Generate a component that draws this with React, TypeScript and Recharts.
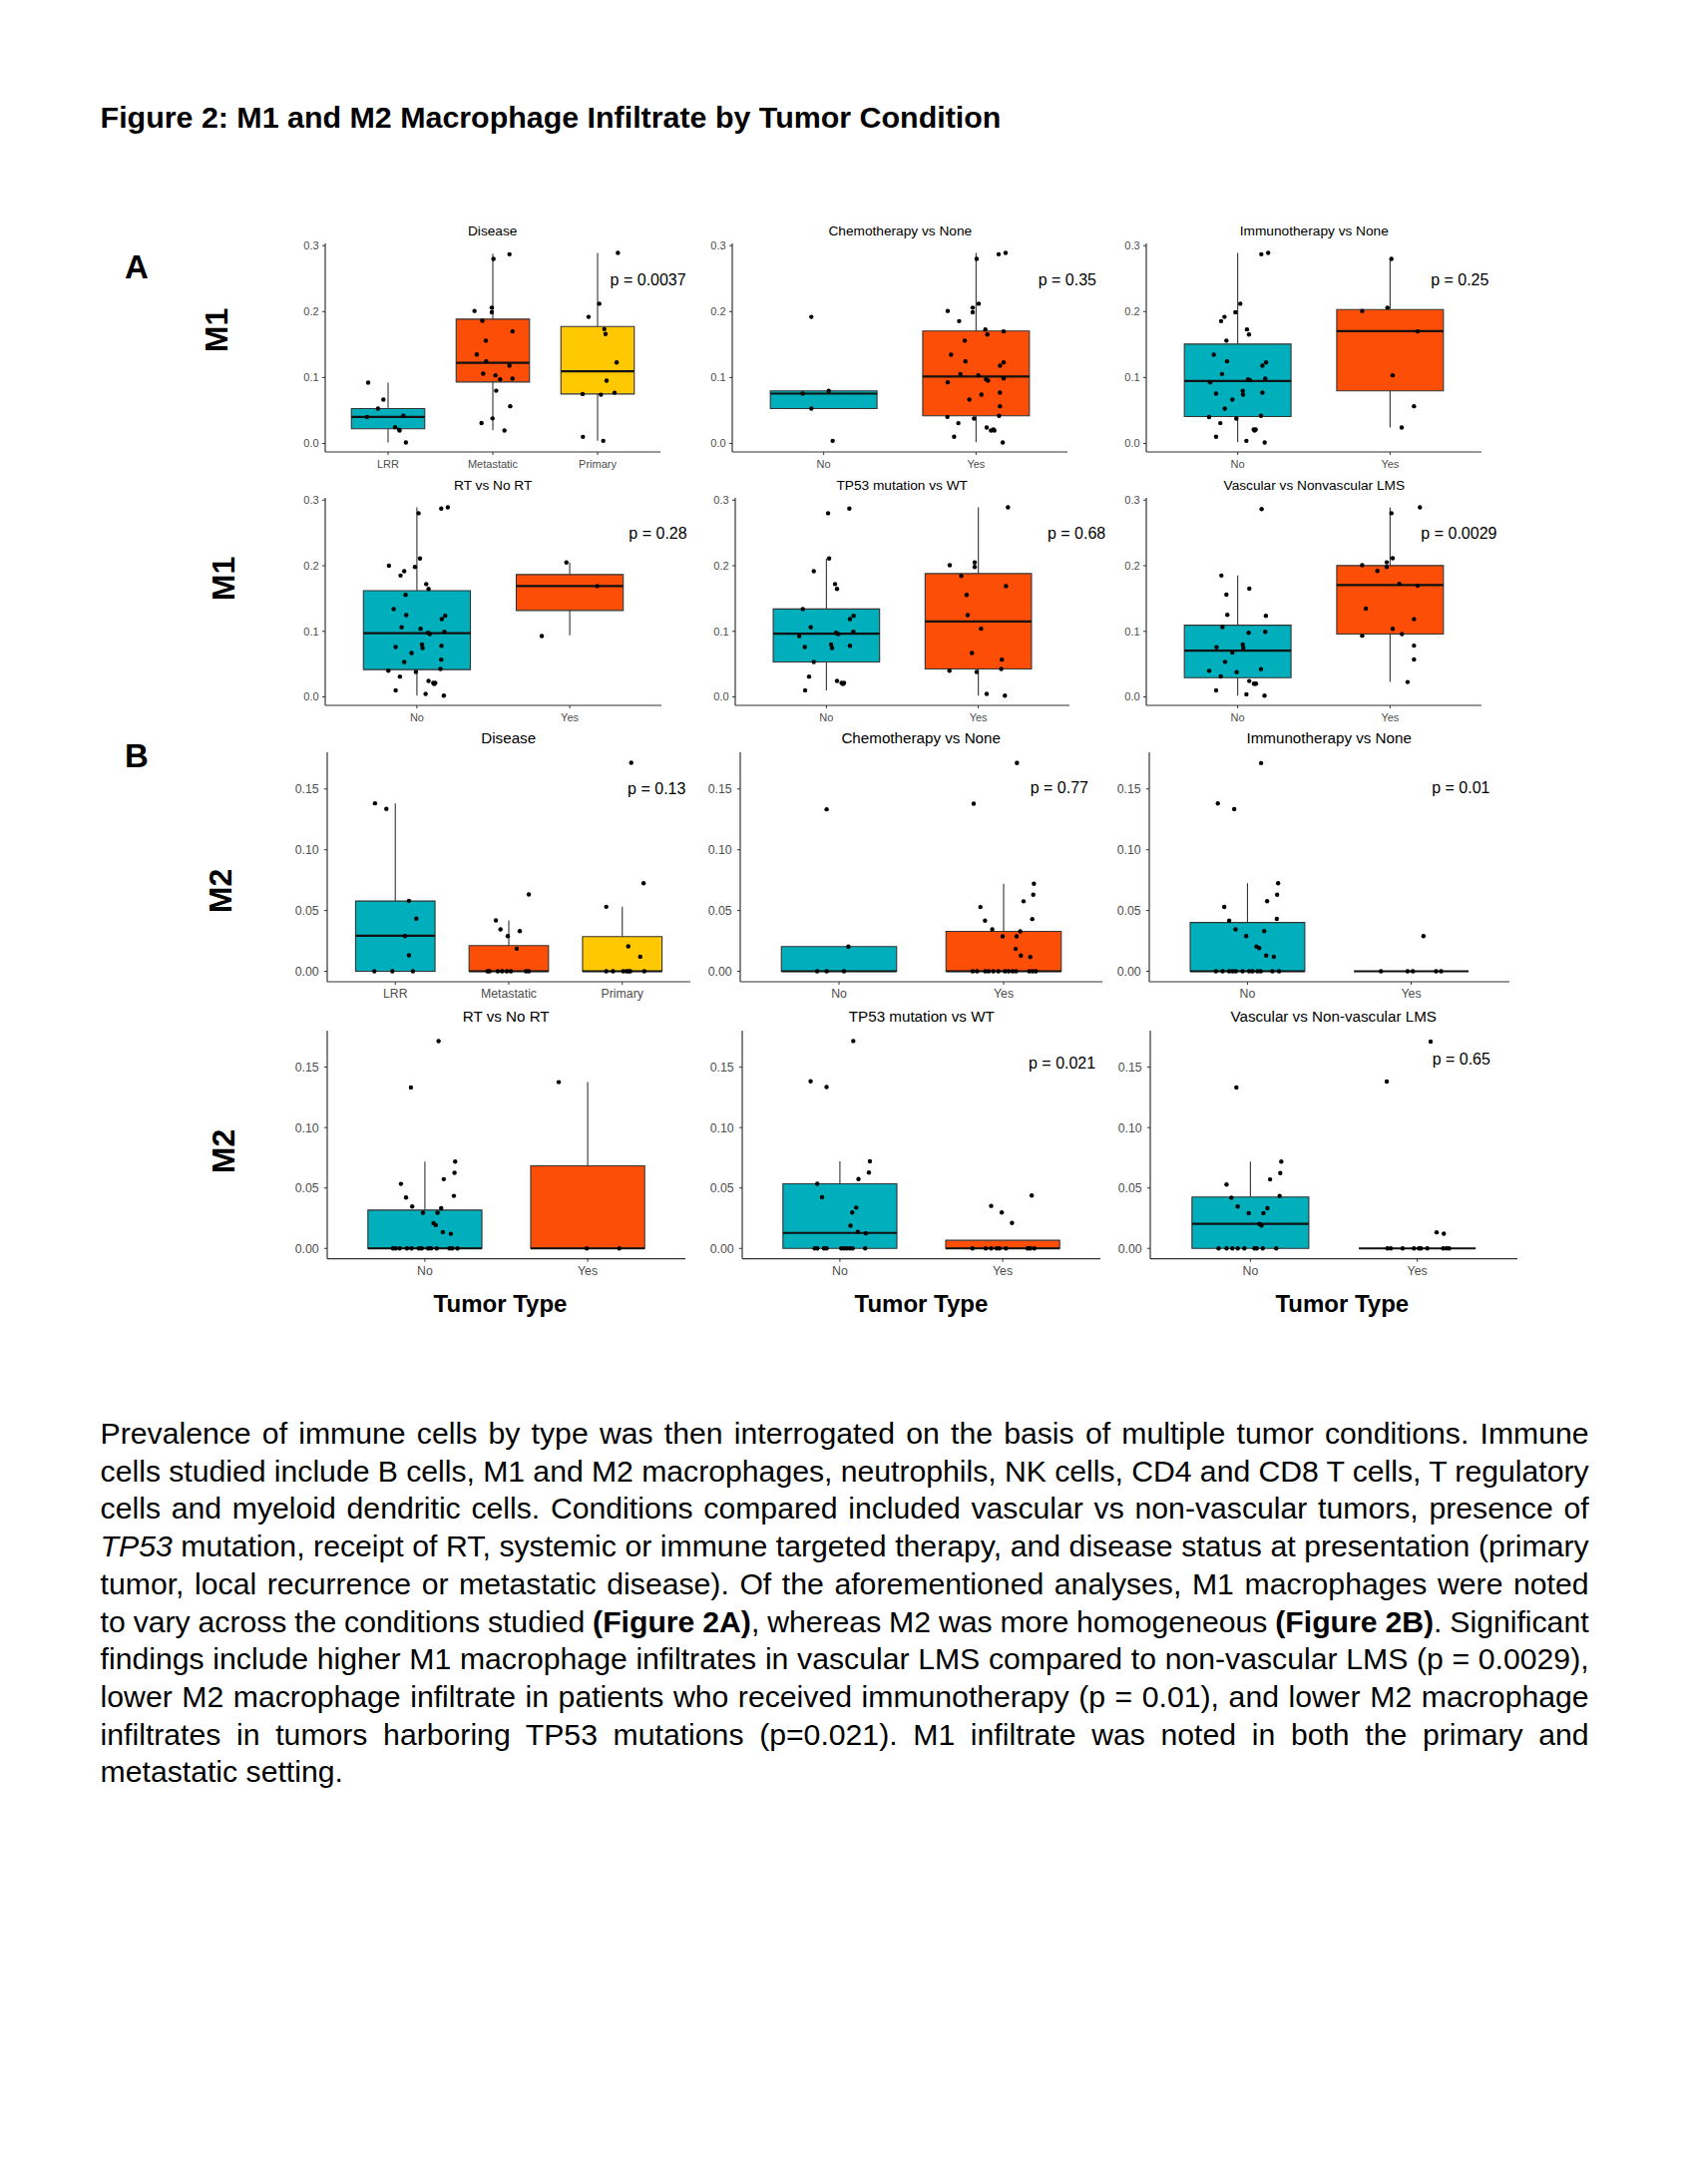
import React from 'react';
import { ComposedChart, XAxis, YAxis, Scatter, ReferenceArea, ReferenceLine, ReferenceDot } from 'recharts';

type Pt = [number, number];
type Box = [number, number, number, number, number];

const FONT = "'Liberation Sans', Arial, Helvetica, sans-serif";
const TEAL = '#00AFBB';
const ORANGE = '#FC4E07';
const YELLOW = '#FFC800';

// ---------- category labels ----------
const diseaseCats = ['LRR', 'Metastatic', 'Primary'];
const noYesCats = ['No', 'Yes'];
const m1Ticks = [0, 0.1, 0.2, 0.3];
const m2Ticks = [0, 0.05, 0.1, 0.15];
const m1Domain: [number, number] = [-0.0129, 0.3034];
const m2Domain: [number, number] = [-0.0086, 0.1802];

// ---------- M1 : [value, jitter] ----------
const m1DiseaseLRR: Pt[] = [[0.0923,-0.19],[0.0666,-0.045],[0.053,-0.096],[0.04,-0.2],[0.042,0.146],[0.0247,0.067],[0.021,0.105],[0.0197,0.11],[0.0015,0.17]];
const m1DiseaseMet: Pt[] = [[0.28,0.006],[0.287,0.159],[0.201,-0.175],[0.206,-0.01],[0.199,-0.01],[0.186,-0.1],[0.17,0.188],[0.156,-0.067],[0.135,-0.153],[0.1246,-0.064],[0.118,0.159],[0.106,-0.092],[0.1034,0.025],[0.0973,0.07],[0.0983,0.188],[0.08,0.032],[0.0565,0.166],[0.031,-0.108],[0.038,-0.003],[0.0197,0.111]];
const m1DiseasePri: Pt[] = [[0.289,0.194],[0.212,0.016],[0.192,-0.086],[0.1735,0.064],[0.166,0.076],[0.123,0.182],[0.0953,0.086],[0.077,0.162],[0.075,-0.143],[0.074,0.032],[0.01,-0.14],[0.004,0.054]];
const m1DiseaseBox: Box[] = [[0.0015,0.0222,0.0403,0.053,0.0923],[0.0202,0.0933,0.1225,0.1886,0.288],[0.004,0.0751,0.1094,0.1775,0.289]];

const m1ChemoNo: Pt[] = [[0.192,-0.081],[0.0756,-0.138],[0.0797,0.033],[0.053,-0.081],[0.004,0.059]];
const m1ChemoYes: Pt[] = [[0.28,0.004],[0.287,0.148],[0.289,0.194],[0.201,-0.186],[0.206,-0.022],[0.199,-0.022],[0.212,0.017],[0.1856,-0.111],[0.173,0.061],[0.1654,0.074],[0.17,0.181],[0.156,-0.074],[0.1346,-0.164],[0.1246,-0.07],[0.123,0.181],[0.118,0.157],[0.1054,-0.103],[0.1034,0.015],[0.0928,-0.186],[0.0973,0.066],[0.0953,0.079],[0.0988,0.181],[0.0666,-0.044],[0.0741,0.035],[0.0772,0.157],[0.0565,0.157],[0.0403,-0.188],[0.0378,-0.013],[0.0419,0.151],[0.0308,-0.116],[0.0242,0.07],[0.0197,0.098],[0.0212,0.114],[0.0197,0.12],[0.0101,-0.144],[0.0015,0.175]];
const m1ChemoBox: Box[] = [[0.053,0.053,0.0756,0.0797,0.0797],[0.002,0.0419,0.1014,0.1705,0.289]];

const m1ImmunoNo: Pt[] = [[0.287,0.155],[0.289,0.2],[0.212,0.017],[0.199,-0.015],[0.192,-0.087],[0.1856,-0.109],[0.173,0.061],[0.1654,0.074],[0.156,-0.074],[0.1346,-0.157],[0.1246,-0.07],[0.123,0.186],[0.118,0.162],[0.1054,-0.103],[0.0928,-0.181],[0.0973,0.068],[0.0958,0.081],[0.0983,0.181],[0.0666,-0.035],[0.0756,-0.142],[0.0797,0.033],[0.0741,0.035],[0.0772,0.162],[0.053,-0.085],[0.04,-0.188],[0.0378,-0.009],[0.0419,0.153],[0.0308,-0.114],[0.0212,0.105],[0.0197,0.111],[0.0212,0.118],[0.0101,-0.142],[0.004,0.057],[0.0015,0.177]];
const m1ImmunoYes: Pt[] = [[0.28,0.009],[0.201,-0.183],[0.206,-0.017],[0.17,0.181],[0.1034,0.017],[0.0565,0.157],[0.0242,0.076]];
const m1ImmunoBox: Box[] = [[0.002,0.0408,0.0948,0.1508,0.289],[0.0242,0.0797,0.1705,0.2032,0.28]];

const m1RtNo: Pt[] = [[0.28,0.011],[0.287,0.159],[0.289,0.202],[0.211,0.02],[0.2,-0.183],[0.198,-0.013],[0.1916,-0.083],[0.185,-0.107],[0.172,0.061],[0.1647,0.076],[0.1556,-0.074],[0.134,-0.152],[0.1247,-0.07],[0.1237,0.185],[0.1186,0.163],[0.106,-0.1],[0.104,0.024],[0.0978,0.072],[0.0958,0.085],[0.0993,0.18],[0.076,-0.139],[0.08,0.033],[0.0745,0.037],[0.078,0.161],[0.0669,-0.035],[0.0532,-0.083],[0.0568,0.159],[0.04,-0.187],[0.038,-0.007],[0.0426,0.154],[0.031,-0.111],[0.0243,0.076],[0.0213,0.107],[0.0198,0.113],[0.0213,0.12],[0.0101,-0.139],[0.0046,0.057],[0.002,0.176]];
const m1RtYes: Pt[] = [[0.205,-0.022],[0.169,0.18],[0.0928,-0.183]];
const m1RtBox: Box[] = [[0.002,0.0416,0.0973,0.162,0.289],[0.0938,0.1318,0.169,0.1865,0.205]];

const m1Tp53No: Pt[] = [[0.28,0.011],[0.287,0.151],[0.211,0.018],[0.1916,-0.083],[0.172,0.057],[0.1647,0.07],[0.134,-0.155],[0.106,-0.103],[0.1237,0.179],[0.1186,0.155],[0.0928,-0.179],[0.0978,0.063],[0.0958,0.077],[0.0993,0.177],[0.076,-0.142],[0.08,0.031],[0.0745,0.037],[0.078,0.155],[0.0532,-0.083],[0.031,-0.114],[0.0243,0.07],[0.0213,0.1],[0.0198,0.109],[0.0213,0.116],[0.0101,-0.14]];
const m1Tp53Yes: Pt[] = [[0.289,0.195],[0.2007,-0.188],[0.205,-0.024],[0.198,-0.024],[0.1845,-0.112],[0.169,0.182],[0.1556,-0.077],[0.1247,-0.07],[0.104,0.018],[0.0669,-0.042],[0.0568,0.155],[0.04,-0.19],[0.038,-0.011],[0.0426,0.151],[0.0046,0.055],[0.002,0.175]];
const m1Tp53Box: Box[] = [[0.0101,0.0532,0.0963,0.134,0.211],[0.002,0.0426,0.115,0.188,0.289]];

const m1VascNo: Pt[] = [[0.2864,0.157],[0.185,-0.107],[0.165,0.076],[0.156,-0.074],[0.125,-0.068],[0.1235,0.185],[0.1064,-0.1],[0.0978,0.072],[0.0993,0.181],[0.0756,-0.139],[0.08,0.033],[0.0746,0.037],[0.0676,-0.035],[0.0535,-0.083],[0.0398,-0.187],[0.0378,-0.007],[0.0424,0.153],[0.0313,-0.111],[0.0242,0.076],[0.0202,0.107],[0.0202,0.113],[0.0202,0.12],[0.0101,-0.142],[0.004,0.057],[0.002,0.176]];
const m1VascYes: Pt[] = [[0.28,0.009],[0.289,0.196],[0.2007,-0.183],[0.2113,0.017],[0.2052,-0.022],[0.198,-0.022],[0.192,-0.083],[0.1725,0.061],[0.1694,0.181],[0.1346,-0.159],[0.1185,0.157],[0.1039,0.017],[0.0933,-0.183],[0.0958,0.078],[0.0782,0.157],[0.057,0.157],[0.0227,0.115]];
const m1VascBox: Box[] = [[0.002,0.0292,0.0706,0.1094,0.185],[0.0227,0.0958,0.1705,0.2002,0.289]];

// ---------- M2 : [value, jitter] ----------
const m2DiseaseLRR: Pt[] = [[0.1382,-0.179],[0.1336,-0.079],[0.058,0.12],[0.0433,0.185],[0.029,0.085],[0.0131,0.12],[0,-0.185],[0,-0.026],[0,0.155]];
const m2DiseaseMet: Pt[] = [[0.0632,0.176],[0.0419,-0.114],[0.0345,-0.073],[0.0331,0.097],[0.029,-0.009],[0.0186,0.07],[0,-0.188],[0,-0.17],[0,-0.097],[0,-0.059],[0,-0.018],[0,0.018],[0,0.152],[0,0.176]];
const m2DiseasePri: Pt[] = [[0.1716,0.079],[0.0725,0.188],[0.0531,-0.141],[0.0205,0.053],[0.012,0.158],[0,-0.141],[0,-0.082],[0,0.009],[0,0.038],[0,0.056],[0,0.07],[0,0.194]];
const m2DiseaseBox: Box[] = [[0,0,0.0293,0.0578,0.1382],[0,0,0,0.0211,0.0419],[0,0,0,0.0285,0.0531]];

const m2ChemoNo: Pt[] = [[0.1333,-0.075],[0.0203,0.057],[0,-0.133],[0,-0.075],[0,0.03]];
const m2ChemoYes: Pt[] = [[0.1714,0.081],[0.1379,-0.182],[0.0721,0.184],[0.063,0.18],[0.0576,0.121],[0.0529,-0.141],[0.043,0.174],[0.0417,-0.113],[0.0345,-0.069],[0.0329,0.101],[0.0288,-0.006],[0.0288,0.079],[0.0184,0.073],[0.0129,0.105],[0.0118,0.162],[0,-0.188],[0,-0.162],[0,-0.111],[0,-0.091],[0,-0.063],[0,-0.032],[0,0.008],[0,0.03],[0,0.055],[0,0.075],[0,0.156],[0,0.176],[0,0.196]];
const m2ChemoBox: Box[] = [[0,0,0,0.0203,0.0203],[0,0,0,0.0329,0.0721]];

const m2ImmunoNo: Pt[] = [[0.1713,0.083],[0.1381,-0.181],[0.1334,-0.081],[0.0724,0.187],[0.063,0.181],[0.0577,0.12],[0.053,-0.142],[0.0417,-0.112],[0.0431,0.179],[0.0345,-0.073],[0.0331,0.102],[0.029,-0.008],[0.0204,0.055],[0.0191,0.071],[0.013,0.114],[0.0119,0.161],[0,-0.193],[0,-0.152],[0,-0.112],[0,-0.091],[0,-0.071],[0,-0.03],[0,0.01],[0,0.03],[0,0.061],[0,0.081],[0,0.152],[0,0.193]];
const m2ImmunoYes: Pt[] = [[0.029,0.075],[0,-0.185],[0,-0.022],[0,0.01],[0,0.152],[0,0.183]];
const m2ImmunoBox: Box[] = [[0,0,0,0.0401,0.0724],[0,0,0,0,0]];

const m2RtNo: Pt[] = [[0.1715,0.084],[0.1332,-0.086],[0.0718,0.186],[0.0625,0.182],[0.0573,0.116],[0.0534,-0.147],[0.0421,-0.116],[0.0435,0.178],[0.0347,-0.078],[0.0333,0.1],[0.0295,-0.012],[0.0295,0.078],[0.0209,0.053],[0.0193,0.067],[0.0135,0.11],[0.0121,0.159],[0,-0.196],[0,-0.18],[0,-0.155],[0,-0.11],[0,-0.082],[0,-0.037],[0,-0.02],[0,0.02],[0,0.037],[0,0.073],[0,0.151],[0,0.167],[0,0.2]];
const m2RtYes: Pt[] = [[0.1376,-0.178],[0,-0.006],[0,0.194]];
const m2RtBox: Box[] = [[0,0,0,0.0317,0.0718],[0,0,0,0.0683,0.1376]];

const m2Tp53No: Pt[] = [[0.1716,0.082],[0.1383,-0.18],[0.1336,-0.082],[0.0721,0.184],[0.0627,0.178],[0.0574,0.114],[0.0535,-0.139],[0.0424,-0.11],[0.0338,0.1],[0.0297,0.076],[0.0188,0.065],[0.0136,0.11],[0.0125,0.159],[0,-0.155],[0,-0.139],[0,-0.098],[0,-0.082],[0,0.008],[0,0.024],[0,0.041],[0,0.061],[0,0.078],[0,0.155]];
const m2Tp53Yes: Pt[] = [[0.0438,0.178],[0.0352,-0.071],[0.0297,-0.006],[0.0211,0.057],[0,-0.186],[0,-0.104],[0,-0.071],[0,-0.037],[0,-0.02],[0,0.02],[0,0.153],[0,0.169],[0,0.194]];
const m2Tp53Box: Box[] = [[0,0,0.0128,0.0535,0.0721],[0,0,0,0.0067,0.0067]];

const m2VascNo: Pt[] = [[0.1332,-0.084],[0.0718,0.185],[0.0623,0.179],[0.0571,0.118],[0.0528,-0.143],[0.042,-0.114],[0.0433,0.175],[0.0347,-0.076],[0.0333,0.102],[0.0292,-0.01],[0.0292,0.078],[0.0203,0.054],[0.019,0.066],[0,-0.191],[0,-0.143],[0,-0.108],[0,-0.076],[0,-0.036],[0,0.024],[0,0.038],[0,0.074],[0,0.155]];
const m2VascYes: Pt[] = [[0.1711,0.08],[0.1381,-0.183],[0.0133,0.116],[0.0122,0.159],[0,-0.179],[0,-0.159],[0,-0.088],[0,-0.02],[0,0.01],[0,0.022],[0,0.06],[0,0.155],[0,0.175],[0,0.191]];
const m2VascBox: Box[] = [[0,0,0.0203,0.0425,0.0718],[0,0,0,0,0]];

// ---------- panel titles and p-values ----------
const m1Titles = ['Disease', 'Chemotherapy vs None', 'Immunotherapy vs None', 'RT vs No RT', 'TP53 mutation vs WT', 'Vascular vs Nonvascular LMS'];
const m2Titles = ['Disease', 'Chemotherapy vs None', 'Immunotherapy vs None', 'RT vs No RT', 'TP53 mutation vs WT', 'Vascular vs Non-vascular LMS'];
const m1PValues = ['p = 0.0037', 'p = 0.35', 'p = 0.25', 'p = 0.28', 'p = 0.68', 'p = 0.0029'];
const m2PValues = ['p = 0.13', 'p = 0.77', 'p = 0.01', '', 'p = 0.021', 'p = 0.65'];

interface PanelSpec {
  title: string;
  cats: string[];
  groups: Pt[][];
  boxes: Box[];
  colors: string[];
  left: number; top: number; w: number; h: number;
  domain: [number, number];
  ticks: number[];
  digits: number;
  p: string; px: number; py: number;
  tickFont: number; titleFont: number; titleY: number;
  xMargin: number; yMargin: number;
}

const aBase = { domain: m1Domain, ticks: m1Ticks, digits: 1, tickFont: 11, titleFont: 13.7, xMargin: 4.8, yMargin: 3.4 };
const bBase = { domain: m2Domain, ticks: m2Ticks, digits: 2, tickFont: 12.3, titleFont: 15.2, xMargin: 4.6, yMargin: 5.4 };

const panels: PanelSpec[] = [
  { ...aBase, title: m1Titles[0], cats: diseaseCats, groups: [m1DiseaseLRR, m1DiseaseMet, m1DiseasePri], boxes: m1DiseaseBox, colors: [TEAL, ORANGE, YELLOW], left: 325.7, top: 244, w: 336, h: 209, p: m1PValues[0], px: 3.12, py: 0.248, titleY: 236.2 },
  { ...aBase, title: m1Titles[1], cats: noYesCats, groups: [m1ChemoNo, m1ChemoYes], boxes: m1ChemoBox, colors: [TEAL, ORANGE], left: 734.3, top: 244, w: 336, h: 209, p: m1PValues[1], px: 2.408, py: 0.248, titleY: 236.2 },
  { ...aBase, title: m1Titles[2], cats: noYesCats, groups: [m1ImmunoNo, m1ImmunoYes], boxes: m1ImmunoBox, colors: [TEAL, ORANGE], left: 1149.3, top: 244, w: 336, h: 209, p: m1PValues[2], px: 2.267, py: 0.248, titleY: 236.2 },
  { ...aBase, title: m1Titles[3], cats: noYesCats, groups: [m1RtNo, m1RtYes], boxes: m1RtBox, colors: [TEAL, ORANGE], left: 325.7, top: 499, w: 337, h: 208, p: m1PValues[3], px: 2.387, py: 0.249, titleY: 491.2 },
  { ...aBase, title: m1Titles[4], cats: noYesCats, groups: [m1Tp53No, m1Tp53Yes], boxes: m1Tp53Box, colors: [TEAL, ORANGE], left: 736.7, top: 499, w: 335, h: 208, p: m1PValues[4], px: 2.455, py: 0.25, titleY: 491.2 },
  { ...aBase, title: m1Titles[5], cats: noYesCats, groups: [m1VascNo, m1VascYes], boxes: m1VascBox, colors: [TEAL, ORANGE], left: 1149.3, top: 499, w: 336, h: 208, p: m1PValues[5], px: 2.203, py: 0.25, titleY: 491.2 },
  { ...bBase, title: m2Titles[0], cats: diseaseCats, groups: [m2DiseaseLRR, m2DiseaseMet, m2DiseasePri], boxes: m2DiseaseBox, colors: [TEAL, ORANGE, YELLOW], left: 327.7, top: 754, w: 364, h: 230, p: m2PValues[0], px: 3.047, py: 0.15, titleY: 745.1 },
  { ...bBase, title: m2Titles[1], cats: noYesCats, groups: [m2ChemoNo, m2ChemoYes], boxes: m2ChemoBox, colors: [TEAL, ORANGE], left: 741.7, top: 754, w: 363, h: 230, p: m2PValues[1], px: 2.162, py: 0.1514, titleY: 745.1 },
  { ...bBase, title: m2Titles[2], cats: noYesCats, groups: [m2ImmunoNo, m2ImmunoYes], boxes: m2ImmunoBox, colors: [TEAL, ORANGE], left: 1151.7, top: 754, w: 361, h: 230, p: m2PValues[2], px: 2.126, py: 0.1514, titleY: 745.1 },
  { ...bBase, title: m2Titles[3], cats: noYesCats, groups: [m2RtNo, m2RtYes], boxes: m2RtBox, colors: [TEAL, ORANGE], left: 327.7, top: 1033.4, w: 359, h: 228.7, p: m2PValues[3], px: 2.1, py: 0.15, titleY: 1024.4 },
  { ...bBase, title: m2Titles[4], cats: noYesCats, groups: [m2Tp53No, m2Tp53Yes], boxes: m2Tp53Box, colors: [TEAL, ORANGE], left: 744.3, top: 1033.4, w: 359, h: 228.7, p: m2PValues[4], px: 2.159, py: 0.1533, titleY: 1024.4 },
  { ...bBase, title: m2Titles[5], cats: noYesCats, groups: [m2VascNo, m2VascYes], boxes: m2VascBox, colors: [TEAL, ORANGE], left: 1152.7, top: 1033.4, w: 368, h: 228.7, p: m2PValues[5], px: 2.09, py: 0.157, titleY: 1024.4 },
];

const paragraphLines: React.ReactNode[] = [
  <>Prevalence of immune cells by type was then interrogated on the basis of multiple tumor conditions. Immune</>,
  <>cells studied include B cells, M1 and M2 macrophages, neutrophils, NK cells, CD4 and CD8 T cells, T regulatory</>,
  <>cells and myeloid dendritic cells. Conditions compared included vascular vs non-vascular tumors, presence of</>,
  <><i>TP53</i> mutation, receipt of RT, systemic or immune targeted therapy, and disease status at presentation (primary</>,
  <>tumor, local recurrence or metastatic disease). Of the aforementioned analyses, M1 macrophages were noted</>,
  <>to vary across the conditions studied <b>(Figure 2A)</b>, whereas M2 was more homogeneous <b>(Figure 2B)</b>. Significant</>,
  <>findings include higher M1 macrophage infiltrates in vascular LMS compared to non-vascular LMS (p = 0.0029),</>,
  <>lower M2 macrophage infiltrate in patients who received immunotherapy (p = 0.01), and lower M2 macrophage</>,
  <>infiltrates in tumors harboring TP53 mutations (p=0.021). M1 infiltrate was noted in both the primary and</>,
  <>metastatic setting.</>,
];

const AXIS = '#333333';
const TICKTXT = '#4D4D4D';
const LINE = '#333333';

const PointShape = (props: any) => <circle cx={props.cx} cy={props.cy} r={2.2} fill="#000" />;

function Panel({ s }: { s: PanelSpec }) {
  const ML = 60, MT = 10, MR = 90, MB = 30;
  const n = s.cats.length;
  const pts = s.groups.flatMap((g, i) => g.map(([v, j]) => ({ x: i + 1 + j, y: v })));
  const half = 0.35;
  const refs: React.ReactElement[] = [];
  s.boxes.forEach(([lo, q1, med, q3, hi], i) => {
    const c = i + 1;
    if (hi > q3) refs.push(<ReferenceLine key={`wu${i}`} segment={[{ x: c, y: q3 }, { x: c, y: hi }]} stroke={LINE} strokeWidth={1.1} />);
    if (lo < q1) refs.push(<ReferenceLine key={`wl${i}`} segment={[{ x: c, y: lo }, { x: c, y: q1 }]} stroke={LINE} strokeWidth={1.1} />);
    if (q3 > q1) refs.push(<ReferenceArea key={`b${i}`} x1={c - half} x2={c + half} y1={q1} y2={q3} fill={s.colors[i]} fillOpacity={1} stroke={LINE} strokeWidth={1.1} />);
    refs.push(<ReferenceLine key={`m${i}`} segment={[{ x: c - half, y: med }, { x: c + half, y: med }]} stroke="#111" strokeWidth={2.2} />);
  });
  return (
    <div style={{ position: 'absolute', left: s.left - ML, top: s.top - MT }}>
      <ComposedChart width={ML + s.w + MR} height={MT + s.h + MB} margin={{ top: MT, right: MR, bottom: 0, left: 0 }}>
        <XAxis
          type="number"
          dataKey="x"
          domain={[0.4, n + 0.6]}
          allowDataOverflow
          ticks={s.cats.map((_, i) => i + 1)}
          interval={0}
          tickFormatter={(v: number) => s.cats[Math.round(v) - 1]}
          height={MB}
          tickSize={3}
          tickMargin={s.xMargin}
          axisLine={{ stroke: AXIS, strokeWidth: 1.2 }}
          tickLine={{ stroke: AXIS, strokeWidth: 1 }}
          tick={{ fill: TICKTXT, fontSize: s.tickFont }}
        />
        <YAxis
          type="number"
          dataKey="y"
          domain={s.domain}
          allowDataOverflow
          ticks={s.ticks}
          interval={0}
          tickFormatter={(v: number) => v.toFixed(s.digits)}
          width={ML}
          tickSize={3}
          tickMargin={s.yMargin}
          axisLine={{ stroke: AXIS, strokeWidth: 1.2 }}
          tickLine={{ stroke: AXIS, strokeWidth: 1 }}
          tick={{ fill: TICKTXT, fontSize: s.tickFont }}
        />
        {refs}
        <Scatter data={pts} isAnimationActive={false} shape={PointShape} />
        {s.p ? (
          <ReferenceDot
            x={s.px}
            y={s.py}
            r={0}
            fill="none"
            stroke="none"
            label={{ value: s.p, position: 'right', offset: 0, fill: '#000', fontSize: 16 }}
          />
        ) : null}
      </ComposedChart>
    </div>
  );
}

export default function App() {
  const rowLabels = [
    { t: 'M1', x: 228, y: 331 },
    { t: 'M1', x: 235, y: 580 },
    { t: 'M2', x: 232, y: 893 },
    { t: 'M2', x: 235, y: 1154 },
  ];
  const tumorX = [501.5, 923.4, 1345.3];
  const last = paragraphLines.length - 1;
  return (
    <div style={{ position: 'absolute', left: 0, top: 0, width: 1692, height: 2189, background: '#fff', overflow: 'hidden', fontFamily: FONT }}>
      {panels.map((s, i) => (
        <Panel key={i} s={s} />
      ))}
      <div style={{ position: 'absolute', left: 100.6, top: 1418, width: 1492, fontSize: 30.2, lineHeight: '37.7px', color: '#000' }}>
        {paragraphLines.map((ln, i) => (
          <div
            key={i}
            style={{
              whiteSpace: 'nowrap',
              wordSpacing: i === last ? 'normal' : '-3px',
              textAlign: i === last ? 'left' : 'justify',
              textAlignLast: i === last ? 'left' : 'justify',
            } as React.CSSProperties}
          >
            {ln}
          </div>
        ))}
      </div>
      <svg width={1692} height={2189} style={{ position: 'absolute', left: 0, top: 0, pointerEvents: 'none' }}>
        <text x={100.6} y={128} fontSize={30.4} fontWeight="bold" fill="#000" fontFamily={FONT}>
          Figure 2: M1 and M2 Macrophage Infiltrate by Tumor Condition
        </text>
        <text x={137} y={278.8} fontSize={33} fontWeight="bold" textAnchor="middle" fill="#000" fontFamily={FONT}>A</text>
        <text x={137} y={768.8} fontSize={33} fontWeight="bold" textAnchor="middle" fill="#000" fontFamily={FONT}>B</text>
        {rowLabels.map((r, i) => (
          <text key={i} x={r.x} y={r.y} transform={`rotate(-90 ${r.x} ${r.y})`} fontSize={32} fontWeight="bold" textAnchor="middle" fill="#000" fontFamily={FONT}>
            {r.t}
          </text>
        ))}
        {tumorX.map((x, i) => (
          <text key={i} x={x} y={1314.6} fontSize={24} fontWeight="bold" textAnchor="middle" fill="#000" fontFamily={FONT}>Tumor Type</text>
        ))}
        {panels.map((s, i) => (
          <text key={`t${i}`} x={s.left + s.w / 2} y={s.titleY} fontSize={s.titleFont} textAnchor="middle" fill="#000" fontFamily={FONT}>
            {s.title}
          </text>
        ))}
      </svg>
    </div>
  );
}
